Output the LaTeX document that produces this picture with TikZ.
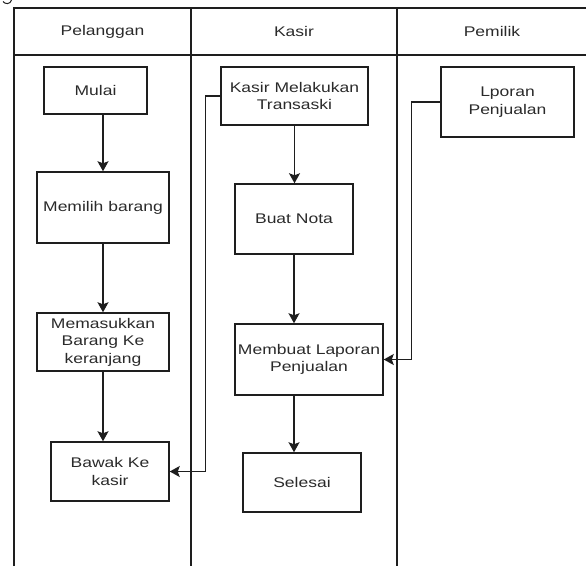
\documentclass[tikz,border=0pt]{standalone}
\usepackage{fontspec}
\setmainfont{Liberation Sans}[FakeStretch=1.25]
\usetikzlibrary{arrows.meta}
\definecolor{ink}{HTML}{1e1e1e}
\definecolor{txt}{HTML}{2a2a2a}
\tikzset{
  lane/.style={draw=ink, line width=1.6pt},
  hdr/.style={text=txt, font=\fontsize{14}{17}\selectfont},
  box/.style={draw=ink, line width=1.5pt, rectangle, inner sep=1pt, align=center,
    text=txt, font=\fontsize{14}{17.5}\selectfont},
  arr/.style={draw=ink, line width=1.3pt, -{Stealth[length=10pt, width=11pt, inset=2pt]}}
}
\begin{document}
\begin{tikzpicture}[x=1pt, y=-1pt]
\useasboundingbox (0,0) rectangle (586,566);
% fragment of a letter above the frame
\draw[ink, line width=1pt] (11.5,0) .. controls (10.5,4.5) and (5,4.5) .. (3,1.5);
% swimlane frame
\draw[lane] (14,566) -- (14,8) -- (586,8);
\draw[lane] (14,55) -- (586,55);
\draw[lane] (191,8) -- (191,566);
\draw[lane] (397,8) -- (397,566);
% headers
\node[hdr] (h1) at (102.5,31.5) {Pelanggan};
\node[hdr] (h2) at (294,31.5) {Kasir};
\node[hdr] (h3) at (492,31.5) {Pemilik};
% Pelanggan
\node[box, minimum width=103pt, minimum height=47pt] (mulai) at (95.5,90.5) {Mulai};
\node[box, minimum width=132pt, minimum height=71pt] (memilih) at (103,207.5) {Memilih barang};
\node[box, minimum width=132pt, minimum height=58pt] (masuk) at (103,342) {Memasukkan\\Barang Ke\\keranjang};
\node[box, minimum width=118pt, minimum height=59pt] (bawak) at (110,471.5) {Bawak Ke\\kasir};
% Kasir
\node[box, minimum width=147pt, minimum height=58pt] (trans) at (294.5,96) {Kasir Melakukan\\Transaski};
\node[box, minimum width=118pt, minimum height=70pt] (nota) at (294,219) {Buat Nota};
\node[box, minimum width=148pt, minimum height=71pt] (lap) at (309,359.5) {Membuat Laporan\\Penjualan};
\node[box, minimum width=118pt, minimum height=59pt] (selesai) at (302,482.5) {Selesai};
% Pemilik
\node[box, minimum width=133pt, minimum height=70pt] (lporan) at (507.5,102) {Lporan\\Penjualan};
% connectors
\draw[arr] (mulai.south -| memilih.north) -- (memilih.north);
\draw[arr] (memilih.south) -- (masuk.north);
\draw[arr] (masuk.south) -- (masuk.south |- bawak.north);
\draw[arr] (trans.south) -- (trans.south |- nota.north);
\draw[arr] (nota.south) -- (nota.south |- lap.north);
\draw[arr] (nota.south |- lap.south) -- (nota.south |- selesai.north);
\draw[arr] (trans.west) -- ++(-15,0) |- (bawak.east);
\draw[arr] (lporan.west) -- ++(-29,0) |- (lap.east);
\end{tikzpicture}
\end{document}
